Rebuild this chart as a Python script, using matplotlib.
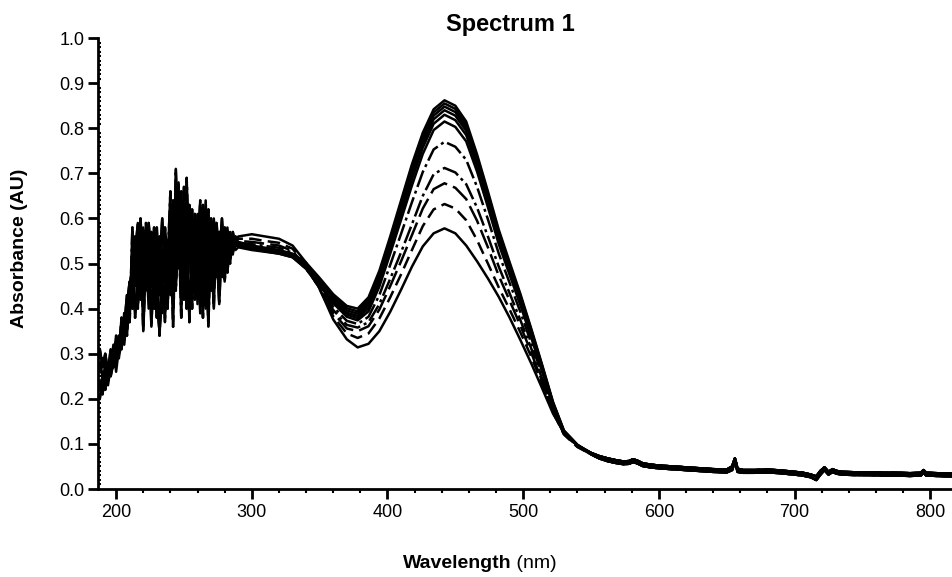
import matplotlib
matplotlib.use('Agg')
import matplotlib.pyplot as plt
from matplotlib.ticker import MultipleLocator, FormatStrFormatter

plt.rcParams['font.family'] = ['Liberation Sans', 'DejaVu Sans']

# ---- wavelength grids (nm) ----
wl_noise = [188, 190, 192, 194, 196, 198, 200, 202, 204, 206,
            208, 210, 212, 214, 216, 218, 220, 222, 224, 226,
            228, 230, 232, 234, 236, 238, 240, 242, 244, 246,
            248, 250, 252, 254, 256, 258, 260, 262, 264, 266,
            268, 270, 272, 274, 276, 278, 280, 282, 284, 286,
            288]
wl_main = [290, 300, 310, 320, 330, 340, 350, 360, 370, 378,
           386, 394, 402, 410, 418, 426, 434, 442, 450, 458,
           466, 474, 482, 490, 498, 506, 514, 522, 530, 540]
wl_tail = [550, 556, 562, 568, 574, 578, 581, 584, 588, 594,
           600, 610, 620, 630, 640, 650, 654, 656, 658, 662,
           670, 680, 690, 700, 706, 712, 716, 719, 722, 725,
           728, 731, 735, 745, 755, 765, 775, 785, 793, 795,
           797, 805, 816]

# ---- noisy UV part (six traces) ----
noise_n0 = [0.24, 0.21, 0.26, 0.24, 0.29, 0.27, 0.31, 0.30, 0.35, 0.33,
            0.40, 0.37, 0.58, 0.45, 0.52, 0.60, 0.48, 0.57, 0.42, 0.55,
            0.47, 0.38, 0.56, 0.44, 0.58, 0.50, 0.66, 0.41, 0.71, 0.52,
            0.60, 0.45, 0.69, 0.50, 0.62, 0.42, 0.58, 0.47, 0.63, 0.40,
            0.56, 0.48, 0.60, 0.50, 0.57, 0.49, 0.58, 0.52, 0.55, 0.53,
            0.55]
noise_n1 = [0.28, 0.25, 0.23, 0.28, 0.26, 0.31, 0.28, 0.33, 0.31, 0.37,
            0.34, 0.43, 0.47, 0.56, 0.40, 0.53, 0.58, 0.44, 0.55, 0.36,
            0.52, 0.58, 0.43, 0.53, 0.37, 0.55, 0.47, 0.64, 0.44, 0.59,
            0.38, 0.62, 0.48, 0.57, 0.40, 0.60, 0.52, 0.64, 0.43, 0.55,
            0.36, 0.58, 0.45, 0.53, 0.41, 0.56, 0.46, 0.54, 0.50, 0.56,
            0.54]
noise_n2 = [0.31, 0.27, 0.30, 0.26, 0.31, 0.29, 0.34, 0.30, 0.38, 0.35,
            0.41, 0.46, 0.40, 0.52, 0.59, 0.47, 0.41, 0.59, 0.50, 0.45,
            0.58, 0.42, 0.35, 0.50, 0.55, 0.40, 0.62, 0.52, 0.46, 0.68,
            0.47, 0.55, 0.40, 0.63, 0.52, 0.46, 0.61, 0.39, 0.57, 0.50,
            0.62, 0.44, 0.52, 0.58, 0.46, 0.51, 0.57, 0.48, 0.55, 0.52,
            0.56]
noise_n3 = [0.22, 0.25, 0.22, 0.27, 0.25, 0.28, 0.32, 0.29, 0.33, 0.39,
            0.36, 0.44, 0.50, 0.38, 0.48, 0.55, 0.35, 0.50, 0.46, 0.57,
            0.40, 0.50, 0.34, 0.47, 0.52, 0.45, 0.56, 0.36, 0.60, 0.49,
            0.66, 0.42, 0.58, 0.37, 0.54, 0.61, 0.45, 0.53, 0.38, 0.60,
            0.50, 0.55, 0.40, 0.59, 0.53, 0.47, 0.55, 0.51, 0.57, 0.53,
            0.55]
noise_n4 = [0.26, 0.29, 0.27, 0.25, 0.30, 0.27, 0.29, 0.34, 0.32, 0.36,
            0.43, 0.39, 0.53, 0.48, 0.57, 0.42, 0.54, 0.47, 0.59, 0.51,
            0.44, 0.55, 0.49, 0.60, 0.46, 0.52, 0.59, 0.45, 0.54, 0.63,
            0.51, 0.67, 0.44, 0.52, 0.58, 0.49, 0.57, 0.44, 0.62, 0.46,
            0.53, 0.60, 0.49, 0.56, 0.51, 0.60, 0.50, 0.56, 0.53, 0.57,
            0.54]
noise_n5 = [0.20, 0.23, 0.28, 0.23, 0.27, 0.32, 0.26, 0.31, 0.37, 0.32,
            0.39, 0.45, 0.42, 0.55, 0.50, 0.58, 0.46, 0.53, 0.40, 0.49,
            0.56, 0.47, 0.52, 0.39, 0.57, 0.48, 0.43, 0.58, 0.50, 0.55,
            0.60, 0.47, 0.63, 0.54, 0.47, 0.56, 0.41, 0.59, 0.51, 0.64,
            0.45, 0.57, 0.52, 0.47, 0.57, 0.48, 0.53, 0.58, 0.52, 0.55,
            0.53]

# ---- visible band, one list per spectrum (highest peak first) ----
abs_c0 = [0.548, 0.540, 0.535, 0.530, 0.522, 0.502, 0.468, 0.432, 0.406, 0.400,
          0.425, 0.484, 0.560, 0.640, 0.720, 0.790, 0.842, 0.862, 0.850, 0.815,
          0.742, 0.660, 0.575, 0.503, 0.432, 0.355, 0.275, 0.193, 0.130, 0.098]
abs_c1 = [0.545, 0.538, 0.533, 0.528, 0.520, 0.499, 0.465, 0.428, 0.401, 0.394,
          0.419, 0.478, 0.553, 0.633, 0.712, 0.782, 0.835, 0.855, 0.843, 0.808,
          0.736, 0.654, 0.569, 0.498, 0.428, 0.352, 0.273, 0.191, 0.129, 0.098]
abs_c2 = [0.543, 0.536, 0.531, 0.526, 0.518, 0.496, 0.461, 0.424, 0.396, 0.389,
          0.413, 0.472, 0.546, 0.626, 0.705, 0.775, 0.828, 0.848, 0.836, 0.801,
          0.730, 0.648, 0.563, 0.493, 0.423, 0.348, 0.270, 0.190, 0.128, 0.097]
abs_c3 = [0.540, 0.534, 0.529, 0.524, 0.516, 0.493, 0.458, 0.420, 0.391, 0.384,
          0.407, 0.465, 0.540, 0.618, 0.697, 0.767, 0.820, 0.840, 0.828, 0.794,
          0.724, 0.642, 0.557, 0.488, 0.418, 0.344, 0.267, 0.188, 0.127, 0.097]
abs_c4 = [0.538, 0.532, 0.527, 0.522, 0.514, 0.490, 0.454, 0.416, 0.387, 0.379,
          0.401, 0.458, 0.532, 0.609, 0.687, 0.757, 0.810, 0.830, 0.818, 0.785,
          0.716, 0.635, 0.551, 0.482, 0.413, 0.340, 0.264, 0.186, 0.126, 0.096]
abs_c5 = [0.536, 0.530, 0.526, 0.522, 0.514, 0.488, 0.451, 0.412, 0.382, 0.374,
          0.394, 0.449, 0.522, 0.597, 0.673, 0.743, 0.796, 0.815, 0.803, 0.771,
          0.704, 0.625, 0.543, 0.475, 0.407, 0.335, 0.260, 0.184, 0.125, 0.096]
abs_c6 = [0.540, 0.536, 0.532, 0.528, 0.518, 0.488, 0.448, 0.404, 0.373, 0.366,
          0.382, 0.430, 0.497, 0.566, 0.636, 0.703, 0.753, 0.770, 0.759, 0.730,
          0.670, 0.598, 0.522, 0.457, 0.392, 0.323, 0.252, 0.179, 0.124, 0.095]
abs_c7 = [0.546, 0.543, 0.539, 0.535, 0.524, 0.490, 0.446, 0.397, 0.364, 0.358,
          0.370, 0.410, 0.466, 0.525, 0.587, 0.650, 0.698, 0.712, 0.702, 0.676,
          0.624, 0.560, 0.493, 0.434, 0.374, 0.311, 0.244, 0.175, 0.123, 0.094]
abs_c8 = [0.550, 0.548, 0.544, 0.540, 0.528, 0.492, 0.445, 0.391, 0.356, 0.350,
          0.361, 0.398, 0.450, 0.505, 0.563, 0.622, 0.665, 0.678, 0.668, 0.643,
          0.595, 0.536, 0.473, 0.418, 0.362, 0.302, 0.238, 0.172, 0.122, 0.094]
abs_c9 = [0.555, 0.555, 0.550, 0.546, 0.533, 0.495, 0.443, 0.383, 0.345, 0.335,
          0.345, 0.378, 0.425, 0.476, 0.530, 0.583, 0.620, 0.632, 0.622, 0.596,
          0.552, 0.500, 0.447, 0.398, 0.347, 0.293, 0.233, 0.170, 0.121, 0.093]
abs_c10 = [0.560, 0.565, 0.560, 0.555, 0.540, 0.502, 0.444, 0.376, 0.332, 0.314,
           0.322, 0.350, 0.393, 0.442, 0.493, 0.538, 0.567, 0.578, 0.567, 0.540,
           0.505, 0.467, 0.426, 0.380, 0.330, 0.278, 0.223, 0.167, 0.126, 0.097]

# ---- long-wavelength tail (two slightly offset traces) ----
tail_a = [0.080, 0.073, 0.068, 0.064, 0.061, 0.062, 0.066, 0.063, 0.057, 0.054,
          0.052, 0.050, 0.048, 0.046, 0.044, 0.043, 0.050, 0.068, 0.045, 0.042,
          0.042, 0.043, 0.041, 0.038, 0.036, 0.032, 0.028, 0.040, 0.048, 0.038,
          0.044, 0.040, 0.038, 0.037, 0.037, 0.036, 0.036, 0.035, 0.036, 0.042,
          0.036, 0.035, 0.034]
tail_b = [0.077, 0.068, 0.062, 0.058, 0.055, 0.056, 0.060, 0.057, 0.051, 0.048,
          0.046, 0.044, 0.042, 0.040, 0.038, 0.037, 0.042, 0.062, 0.038, 0.036,
          0.036, 0.037, 0.035, 0.032, 0.030, 0.026, 0.020, 0.032, 0.042, 0.032,
          0.038, 0.034, 0.032, 0.031, 0.031, 0.030, 0.030, 0.029, 0.030, 0.036,
          0.030, 0.029, 0.028]

noise_traces = [noise_n0, noise_n1, noise_n2, noise_n3, noise_n4, noise_n5]
band_traces = [abs_c0, abs_c1, abs_c2, abs_c3, abs_c4, abs_c5,
               abs_c6, abs_c7, abs_c8, abs_c9, abs_c10]
tail_traces = [tail_a, tail_b]

# line styles per spectrum
dashdot = (0, (7, 1.6, 1.2, 1.6))
styles = ['-', '-', '-', '-', '-', '-', dashdot, dashdot,
          (0, (8, 2.5)), (0, (5, 2.5)), '-']

fig = plt.figure(figsize=(9.52, 5.77), dpi=100)
ax = fig.add_axes([0.103, 0.1525, 0.897, 0.7815])

x_all = wl_noise + wl_main + wl_tail
for i, band in enumerate(band_traces):
    y_all = noise_traces[i % 6] + band + tail_traces[i % 2]
    ax.plot(x_all, y_all, color='black', lw=1.8, ls=styles[i])

ax.set_xlim(186.7, 816)
ax.set_ylim(0, 1.0)

ax.spines['top'].set_visible(False)
ax.spines['right'].set_visible(False)
ax.spines['left'].set_linewidth(2.0)
ax.spines['bottom'].set_linewidth(2.0)

ax.xaxis.set_major_locator(MultipleLocator(100))
ax.xaxis.set_minor_locator(MultipleLocator(20))
ax.yaxis.set_major_locator(MultipleLocator(0.1))
ax.yaxis.set_minor_locator(MultipleLocator(0.01))
ax.yaxis.set_major_formatter(FormatStrFormatter('%.1f'))

ax.tick_params(axis='x', which='major', direction='out', length=7, width=2,
               labelsize=13, pad=4)
ax.tick_params(axis='x', which='minor', direction='out', length=3, width=1.5)
ax.tick_params(axis='y', which='major', direction='out', length=7, width=2,
               labelsize=13, pad=3)
ax.tick_params(axis='y', which='minor', direction='in', length=2.5, width=1.5)

fig.text(0.536, 0.958, 'Spectrum 1', ha='center', va='center',
         fontsize=17, fontweight='bold')
fig.text(0.537, 0.024, 'Wavelength', ha='right', va='center',
         fontsize=14, fontweight='bold')
fig.text(0.537, 0.024, ' (nm)', ha='left', va='center', fontsize=14)
fig.text(0.021, 0.57, 'Absorbance (AU)', ha='center', va='center',
         rotation=90, fontsize=14, fontweight='bold')

fig.savefig('out.png', dpi=100)
